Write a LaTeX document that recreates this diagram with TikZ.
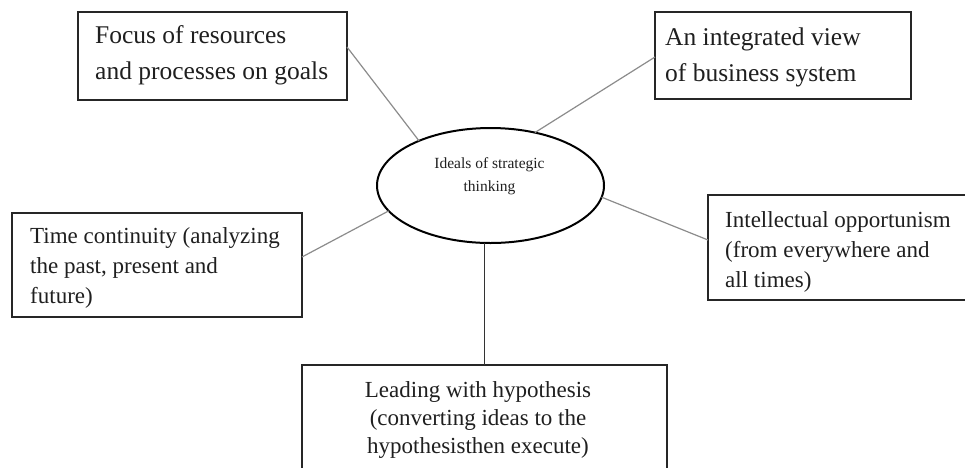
\documentclass[tikz,border=0pt]{standalone}
\usepackage{fontspec}
\setmainfont{Liberation Serif}
\usetikzlibrary{shapes.geometric}
\begin{document}
\begin{tikzpicture}[x=1pt,y=-1pt,
  box/.style={draw=black!85, line width=1.5pt, rectangle, inner sep=0pt, outer sep=0pt, anchor=north west, fill=white},
  txt/.style={inner sep=0pt, text=black!88, align=left},
  bigtxt/.style={txt, font=\fontsize{25.5}{36}\selectfont},
  midtxt/.style={txt, font=\fontsize{23}{30}\selectfont},
  link/.style={draw=black!45, line width=1.2pt},
  stem/.style={draw=black!80, line width=1pt},
  ideal/.style={ellipse, draw=black, line width=2pt, inner sep=0pt, outer sep=0pt, minimum width=227pt, minimum height=115pt, fill=white}
]
\useasboundingbox (0,0) rectangle (965,467);
\fill[white] (0,0) rectangle (965,467);
\clip (0,0) rectangle (965,467);

% boxes
\node[box, minimum width=269pt, minimum height=88pt] (b1) at (78,12) {};
\node[box, minimum width=256pt, minimum height=87pt] (b2) at (655,12) {};
\node[box, minimum width=290pt, minimum height=104pt] (b3) at (12,213) {};
\node[box, minimum width=267pt, minimum height=105pt] (b4) at (708,195) {};
\node[box, minimum width=365pt, minimum height=110pt] (b5) at (302,365) {};

% centre
\node[ideal] (ell) at (490.5,185.5) {};

% texts
\node[bigtxt, anchor=west] (t1) at (95,55) {Focus of resources\\and processes on goals};
\node[bigtxt, anchor=west] (t2) at (665,57.5) {An integrated view\\of business system};
\node[midtxt, anchor=west] (t3) at (30,268) {Time continuity (analyzing\\the past, present and\\future)};
\node[midtxt, anchor=west] (t4) at (725,252) {Intellectual opportunism\\(from everywhere and\\all times)};
\node[txt, align=center, font=\fontsize{23}{28}\selectfont] (t5) at (478,420) {Leading with hypothesis\\(converting ideas to the\\hypothesisthen execute)};
\node[txt, align=center, font=\fontsize{15.5}{23}\selectfont] (t0) at (489.5,176.5) {Ideals of strategic\\thinking};

% connectors
\draw[link] ([yshift=9pt]b1.east) -- (ell.148);
\draw[link] ([yshift=-1.5pt]b2.west) -- (ell.50);
\draw[link] ([yshift=8pt]b3.east) -- (ell.194);
\draw[link] ([yshift=7.5pt]b4.west) -- (ell.354);
\draw[stem] (ell.south -| b5.north) -- (b5.north);
\end{tikzpicture}
\end{document}
